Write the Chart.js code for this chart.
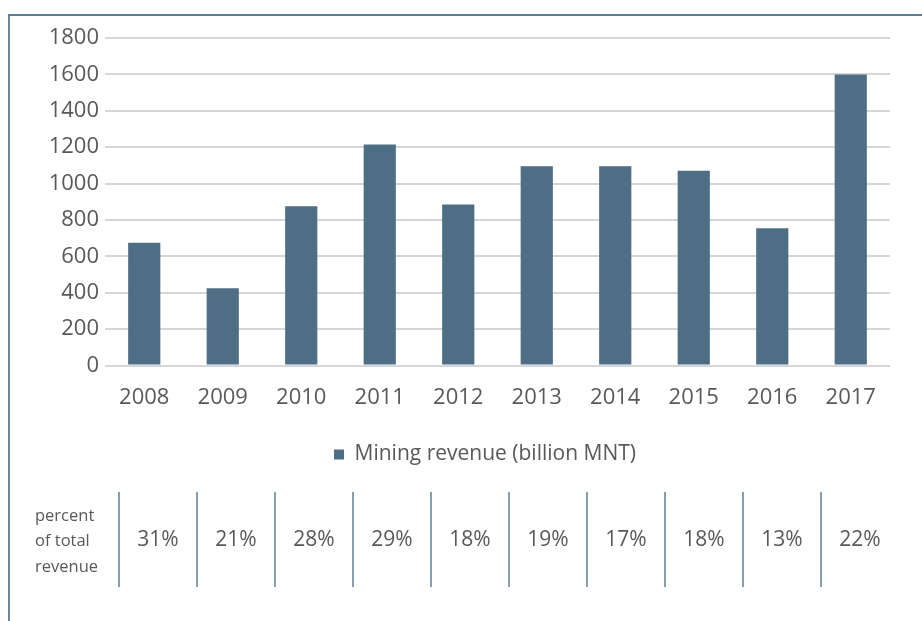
<!DOCTYPE html>
<html>
<head>
<meta charset="utf-8">
<script src="https://cdn.jsdelivr.net/npm/chart.js@4"></script>
<style>
    html, body { margin: 0; padding: 0; background: #fff; }
    #wrap { position: relative; width: 922px; height: 621px; overflow: hidden; }
    #frame { position: absolute; left: 8px; top: 14px; right: -4px; bottom: -4px;
             border-left: 2px solid #6a87a0; border-top: 2px solid #5b7e9b; }
    canvas { position: absolute; left: 0; top: 0; }
</style>
</head>
<body>
<div id="wrap">
    <div id="frame"></div>
    <canvas id="miningChart" width="922" height="621"></canvas>
</div>
<script>
'use strict';

// ====== DATA ======
const years = ['2008', '2009', '2010', '2011', '2012', '2013', '2014', '2015', '2016', '2017'];
const miningRevenue = [675, 425, 875, 1215, 885, 1095, 1095, 1070, 755, 1600];
const percentOfTotal = ['31%', '21%', '28%', '29%', '18%', '19%', '17%', '18%', '13%', '22%'];
const tableCaption = ['percent', 'of total', 'revenue'];
const seriesLabel = 'Mining revenue (billion MNT)';

const FONT = "'Open Sans', 'Noto Sans', sans-serif";
const TEXT_COLOR = '#595959';

// ====== LEGEND OFFSET ======
// legend sits a bit right of the canvas centre in the original
const legendShift = {
    id: 'legendShift',
    afterLayout(chart) {
        if (!chart.legend) return;
        chart.legend.left += 40;
        chart.legend.right += 40;
    }
};

// ====== TABLE BELOW THE CHART ======
const percentTable = {
    id: 'percentTable',
    afterDraw(chart) {
        const ctx = chart.ctx;
        const firstLine = 119, step = 78, top = 492, bottom = 587;
        ctx.save();
        ctx.strokeStyle = '#5f7f9a';
        ctx.lineWidth = 1.5;
        for (let i = 0; i < percentOfTotal.length; i++) {
            const x = firstLine + step * i;
            ctx.beginPath();
            ctx.moveTo(x, top);
            ctx.lineTo(x, bottom);
            ctx.stroke();
        }
        ctx.fillStyle = TEXT_COLOR;
        ctx.textBaseline = 'middle';
        ctx.textAlign = 'center';
        ctx.font = '21px ' + FONT;
        percentOfTotal.forEach((p, i) => {
            ctx.fillText(p, firstLine + step * i + step / 2, 540);
        });
        ctx.textAlign = 'left';
        ctx.font = '16.5px ' + FONT;
        tableCaption.forEach((t, i) => ctx.fillText(t, 35, 516 + i * 25.5));
        ctx.restore();
    }
};

// ====== CHART ======
new Chart(document.getElementById('miningChart').getContext('2d'), {
    type: 'bar',
    data: {
        labels: years,
        datasets: [{
            label: seriesLabel,
            data: miningRevenue,
            backgroundColor: '#4e6e85',
            barPercentage: 0.41,
            categoryPercentage: 1
        }]
    },
    options: {
        responsive: false,
        animation: false,
        layout: { padding: { left: 0, right: 32, top: 38, bottom: 146 } },
        plugins: {
            legend: {
                position: 'bottom',
                labels: {
                    boxWidth: 10,
                    boxHeight: 10,
                    padding: 14,
                    color: TEXT_COLOR,
                    font: { family: FONT, size: 21 }
                }
            },
            tooltip: { enabled: false }
        },
        scales: {
            x: {
                grid: { display: false, drawTicks: false },
                border: { display: false },
                ticks: { color: TEXT_COLOR, padding: 19, font: { family: FONT, size: 22 } }
            },
            y: {
                min: 0,
                max: 1800,
                afterFit: scale => { scale.width = 105; },
                grid: { color: '#d6d6d6', lineWidth: 2, drawTicks: false },
                border: { display: false },
                ticks: {
                    stepSize: 200,
                    color: TEXT_COLOR,
                    padding: 6,
                    font: { family: FONT, size: 22 },
                    callback: v => String(v)
                }
            }
        }
    },
    plugins: [legendShift, percentTable]
});
</script>
</body>
</html>
